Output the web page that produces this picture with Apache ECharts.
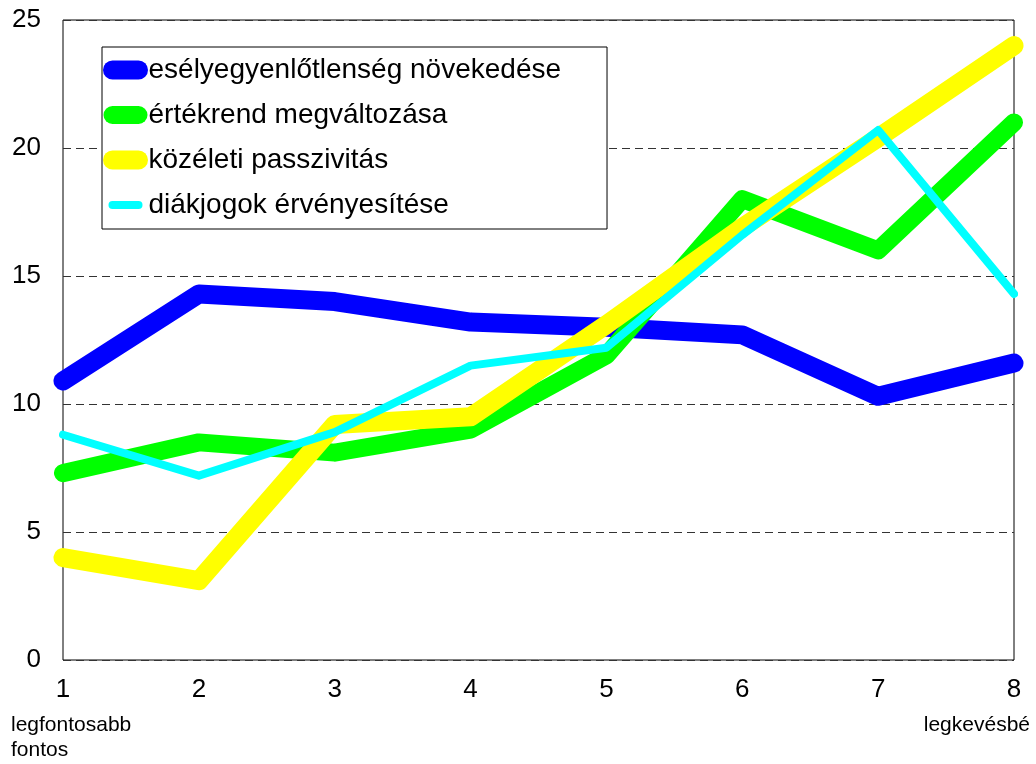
<!DOCTYPE html>
<html>
<head>
<meta charset="utf-8">
<script src="https://cdn.jsdelivr.net/npm/echarts@6/dist/echarts.min.js"></script>
<style>
html,body{margin:0;padding:0;background:#fff;}
#chart{width:1036px;height:764px;}
</style>
</head>
<body>
<div id="chart"></div>
<script>
var categories = ['1', '2', '3', '4', '5', '6', '7', '8'];
var seriesNames = ['esélyegyenlőtlenség növekedése', 'értékrend megváltozása', 'közéleti passzivitás', 'diákjogok érvényesítése'];
var eselyegyenlotlenseg = [10.9, 14.3, 14.0, 13.2, 13.0, 12.7, 10.3, 11.6];
var ertekrend = [7.3, 8.5, 8.1, 9.0, 11.9, 18.0, 16.0, 21.0];
var kozeleti = [4.0, 3.1, 9.2, 9.5, 13.1, 16.9, 20.4, 24.0];
var diakjogok = [8.8, 7.2, 8.9, 11.5, 12.2, 16.6, 20.7, 14.3];
var yTicks = [0, 5, 10, 15, 20, 25];
var subLabelLeft = ['legfontosabb', 'fontos'];
var subLabelRight = 'legkevésbé';

var FONT = '"Liberation Sans", Arial, sans-serif';
var colors = ['#0000ff', '#00ff00', '#ffff00', '#00ffff'];
var widths = [19, 18, 19, 8];
var datas = [eselyegyenlotlenseg, ertekrend, kozeleti, diakjogok];

var chart = echarts.init(document.getElementById('chart'), null, {renderer: 'canvas'});

var series = datas.map(function (d, i) {
  return {
    name: seriesNames[i],
    type: 'line',
    data: d,
    symbol: 'none',
    showSymbol: false,
    smooth: false,
    clip: false,
    z: 2 + i,
    itemStyle: {color: colors[i]},
    lineStyle: {color: colors[i], width: widths[i], cap: 'round', join: 'round'},
    emphasis: {disabled: true},
    animation: false
  };
});

chart.setOption({
  animation: false,
  backgroundColor: '#ffffff',
  textStyle: {fontFamily: FONT},
  grid: {
    left: 63, right: 22, top: 20, bottom: 104,
    show: true, borderColor: '#000', borderWidth: 1, backgroundColor: '#fff',
    containLabel: false
  },
  legend: {
    show: true,
    orient: 'vertical',
    left: 102,
    top: 47,
    data: seriesNames,
    itemWidth: 26,
    itemHeight: 19,
    itemGap: 15,
    padding: [8, 46, 9, 1],
    borderColor: '#000',
    borderWidth: 1,
    backgroundColor: '#fff',
    selectedMode: false,
    itemStyle: {color: 'rgba(0,0,0,0)', borderWidth: 0, opacity: 0},
    lineStyle: {width: 'inherit', cap: 'inherit', join: 'inherit'},
    textStyle: {fontFamily: FONT, fontSize: 28, color: '#000', lineHeight: 30, padding: [0, 0, 0, 5]}
  },
  xAxis: {
    type: 'category',
    data: categories,
    boundaryGap: false,
    axisLine: {show: false},
    axisTick: {show: false},
    splitLine: {show: false},
    axisLabel: {fontFamily: FONT, fontSize: 26, color: '#000', margin: 17}
  },
  yAxis: {
    type: 'value',
    min: yTicks[0],
    max: yTicks[yTicks.length - 1],
    interval: 5,
    axisLine: {show: false},
    axisTick: {show: false},
    axisLabel: {fontFamily: FONT, fontSize: 26, color: '#000', margin: 22},
    splitLine: {show: true, lineStyle: {color: '#333', width: 1, type: [8, 5]}}
  },
  graphic: [
    {type: 'text', left: 11, top: 715, style: {text: subLabelLeft[0], font: '21px ' + FONT, fill: '#000'}},
    {type: 'text', left: 11, top: 740, style: {text: subLabelLeft[1], font: '21px ' + FONT, fill: '#000'}},
    {type: 'text', right: 6, top: 715, style: {text: subLabelRight, font: '21px ' + FONT, fill: '#000'}}
  ],
  series: series
});
</script>
</body>
</html>
